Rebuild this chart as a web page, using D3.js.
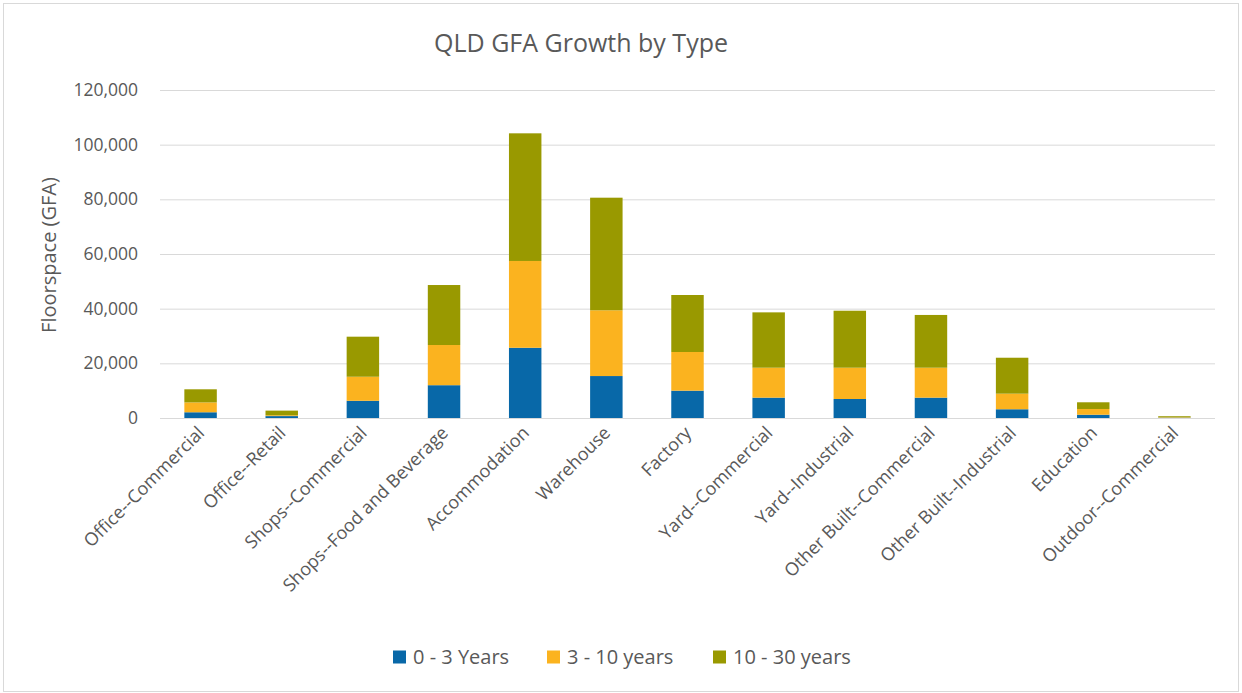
<!DOCTYPE html>
<html>
<head>
<meta charset="utf-8">
<script src="https://cdn.jsdelivr.net/npm/d3@7"></script>
<style>
  body { margin: 0; background: #fff; }
  text { font-family: "Open Sans", "Noto Sans", sans-serif; }
</style>
</head>
<body>
<div id="chart"></div>
<script>
// 数据
let categories = ["Office--Commercial", "Office--Retail", "Shops--Commercial", "Shops--Food and Beverage",
    "Accommodation", "Warehouse", "Factory", "Yard--Commercial", "Yard--Industrial",
    "Other Built--Commercial", "Other Built--Industrial", "Education", "Outdoor--Commercial"];
let seriesNames = ["0 - 3 Years", "3 - 10 years", "10 - 30 years"];
let years0to3 = [2100, 700, 6300, 12000, 25700, 15350, 10000, 7450, 6950, 7450, 3200, 1200, 100];
let years3to10 = [3600, 300, 8800, 14700, 31750, 24050, 14150, 10950, 11450, 10950, 5700, 2100, 150];
let years10to30 = [4800, 1700, 14650, 21950, 46700, 41200, 20850, 20250, 20850, 19300, 13150, 2450, 400];
let yTicks = [0, 20000, 40000, 60000, 80000, 100000, 120000];
let colors = ["#0868a8", "#fbb31f", "#999900"];

let width = 1242;
let height = 693;
let margin = { left: 160, right: 27, top: 90, bottom: 275 };

let svg = d3.select("#chart")
    .append("svg")
    .attr("width", width)
    .attr("height", height);

// 外框
svg.append("rect")
    .attr("x", 3.5).attr("y", 3.5)
    .attr("width", width - 7).attr("height", height - 5)
    .attr("fill", "#fff")
    .attr("stroke", "#d9d9d9");

let x = d3.scaleBand()
    .domain(categories)
    .range([margin.left, width - margin.right])
    .padding(0);

let y = d3.scaleLinear()
    .domain([0, 120000])
    .range([418, margin.top]);

// 网格线
svg.append("g")
    .attr("transform", "translate(" + margin.left + ",0)")
    .call(d3.axisLeft(y).tickValues(yTicks).tickSize(-(width - margin.right - margin.left)).tickFormat(""))
    .call(g => g.select(".domain").remove())
    .call(g => g.selectAll("line").attr("stroke", "#d9d9d9").attr("stroke-width", 1));

// y 轴刻度文字
svg.append("g")
    .selectAll("text")
    .data(yTicks)
    .enter()
    .append("text")
    .attr("x", 138)
    .attr("y", d => y(d))
    .attr("dy", "0.35em")
    .attr("text-anchor", "end")
    .attr("font-size", "17.5px")
    .attr("fill", "#595959")
    .text(d => d3.format(",")(d));

// 堆叠数据
let table = categories.map(function (c, i) {
    return { cat: c, s0: years0to3[i], s1: years3to10[i], s2: years10to30[i] };
});
let stack = d3.stack().keys(["s0", "s1", "s2"])(table);

let barW = x.bandwidth() * 0.4;

svg.append("g")
    .selectAll("g")
    .data(stack)
    .enter()
    .append("g")
    .attr("fill", (d, i) => colors[i])
    .selectAll("rect")
    .data(d => d)
    .enter()
    .append("rect")
    .attr("x", d => x(d.data.cat) + (x.bandwidth() - barW) / 2)
    .attr("y", d => y(d[1]))
    .attr("width", barW)
    .attr("height", d => y(d[0]) - y(d[1]));

// x 轴线
svg.append("line")
    .attr("x1", margin.left).attr("x2", width - margin.right)
    .attr("y1", y(0) + 0.5).attr("y2", y(0) + 0.5)
    .attr("stroke", "#d9d9d9");

// x 轴标签（倾斜 45 度）
svg.append("g")
    .selectAll("text")
    .data(categories)
    .enter()
    .append("text")
    .attr("transform", d => "translate(" + (x(d) + x.bandwidth() / 2 + 5) + "," + 434 + ") rotate(-45)")
    .attr("text-anchor", "end")
    .attr("font-size", "18px")
    .attr("fill", "#595959")
    .text(d => d);

// y 轴标题
svg.append("text")
    .attr("transform", "translate(49,255) rotate(-90)")
    .attr("dy", "0.35em")
    .attr("text-anchor", "middle")
    .attr("font-size", "20px")
    .attr("fill", "#595959")
    .text("Floorspace (GFA)");

// 标题
svg.append("text")
    .attr("x", 581)
    .attr("y", 52)
    .attr("text-anchor", "middle")
    .attr("font-size", "25px")
    .attr("fill", "#595959")
    .text("QLD GFA Growth by Type");

// 图例
let legendX = [393, 547, 713];
let legend = svg.append("g")
    .selectAll("g")
    .data(seriesNames)
    .enter()
    .append("g")
    .attr("transform", (d, i) => "translate(" + legendX[i] + ",657)");
legend.append("rect")
    .attr("x", 0).attr("y", -6.5)
    .attr("width", 13).attr("height", 13)
    .attr("fill", (d, i) => colors[i]);
legend.append("text")
    .attr("x", 20)
    .attr("dy", "0.35em")
    .attr("font-size", "20px")
    .attr("fill", "#595959")
    .text(d => d);
</script>
</body>
</html>
